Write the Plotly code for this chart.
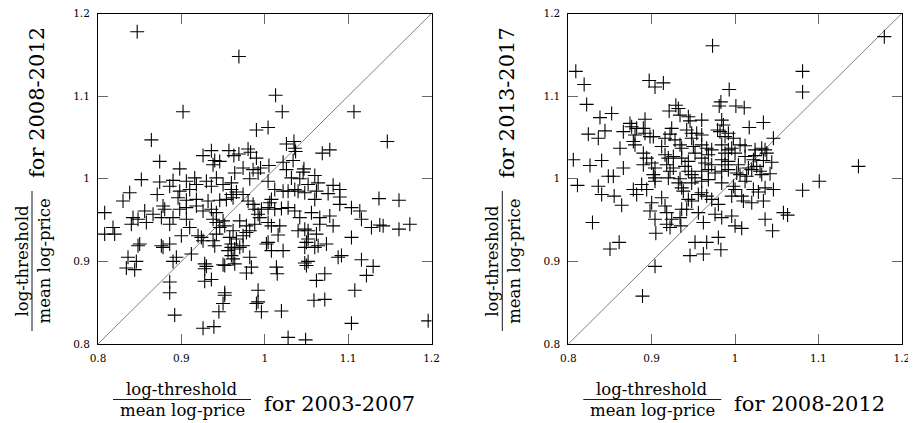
import plotly.graph_objects as go

# left panel: x = 2003-2007, y = 2008-2012
left_x = [0.847, 0.969, 0.902, 0.990, 0.864, 0.874, 0.898, 0.936, 0.926, 0.957, 0.963, 0.969, 0.940, 0.946, 0.938,
          0.980, 0.983, 0.974, 0.986, 0.964,
          1.013, 1.021, 1.107, 1.147, 1.004, 1.026, 1.035, 1.036, 1.037, 1.069, 1.078, 0.990, 1.022, 1.034, 1.005,
          0.995, 0.992, 1.026, 1.047, 1.046, 1.060, 1.032, 1.042,
          1.004, 1.052, 1.064, 1.082, 1.090, 1.012, 1.022, 1.028, 1.036, 1.040, 1.048, 1.062, 1.060, 1.076, 1.137,
          1.161, 1.090, 1.090, 1.008, 1.006, 0.988, 0.996, 1.004, 1.012, 1.020, 1.028, 1.036, 1.042, 1.056, 1.066,
          1.078, 1.104, 1.114, 1.116, 0.992, 0.994, 0.988, 1.004, 1.008, 1.018, 1.066, 1.082, 1.128, 1.138, 1.142,
          1.161, 1.174, 1.040, 1.048, 1.052, 1.062, 1.104, 1.016, 1.004, 1.002, 1.008, 1.022, 1.052, 1.050, 1.048,
          1.064, 1.074, 1.060, 1.088, 1.092, 1.116, 1.130, 1.048, 1.052, 1.050, 1.014, 1.015, 1.122, 1.072, 1.062,
          1.108, 0.992, 0.992, 0.990, 0.996, 1.020, 1.059, 1.072, 1.104, 1.196, 1.028, 1.049,
          0.852, 0.874, 0.890, 0.906, 0.916, 0.930, 0.942, 0.960, 0.982, 0.886, 0.898, 0.910, 0.918, 0.936, 0.950,
          0.960, 0.966, 0.974, 0.838, 0.830, 0.871, 0.896, 0.906, 0.918, 0.932, 0.946, 0.954, 0.960, 0.962, 0.980,
          0.986, 0.878, 0.880, 0.898, 0.906, 0.918, 0.926, 0.936, 0.942, 0.808, 0.856, 0.866, 0.876, 0.842, 0.848,
          0.858, 0.840, 0.890, 0.886, 0.906, 0.910, 0.938, 0.942, 0.950, 0.946, 0.952, 0.962, 0.970, 0.978, 0.818,
          0.808, 0.820, 0.900, 0.920, 0.924, 0.926, 0.942, 0.938, 0.940, 0.958, 0.966, 0.974, 0.978, 0.982, 0.960,
          0.960, 0.964, 0.970, 0.974, 0.848, 0.850, 0.876, 0.878, 0.886, 0.912, 0.836, 0.846, 0.834, 0.844, 0.894,
          0.890, 0.956, 0.960, 0.962, 0.964, 0.982, 0.928, 0.930, 0.928, 0.950, 0.952, 0.984, 0.978, 0.928, 0.936,
          0.886, 0.886, 0.952, 0.952, 0.950, 0.945, 0.892, 0.926, 0.939]
left_y = [1.178, 1.148, 1.081, 1.059, 1.047, 1.021, 1.012, 1.034, 1.028, 1.034, 1.028, 1.030, 1.022, 1.021, 1.017,
          1.036, 1.032, 1.013, 1.011, 1.007,
          1.101, 1.081, 1.081, 1.045, 1.062, 1.042, 1.045, 1.037, 1.033, 1.031, 1.035, 1.025, 1.020, 1.022, 1.016,
          1.013, 1.007, 1.011, 1.012, 1.008, 1.004, 1.001, 1.000,
          0.997, 0.993, 0.995, 0.992, 0.987, 0.987, 0.985, 0.985, 0.987, 0.985, 0.983, 0.985, 0.975, 0.982, 0.976,
          0.974, 0.978, 0.969, 0.975, 0.971, 0.963, 0.963, 0.965, 0.963, 0.964, 0.965, 0.961, 0.953, 0.959, 0.953,
          0.955, 0.965, 0.961, 0.951, 0.957, 0.953, 0.945, 0.947, 0.943, 0.943, 0.945, 0.943, 0.941, 0.944, 0.943,
          0.939, 0.945, 0.937, 0.939, 0.937, 0.933, 0.929, 0.932, 0.923, 0.921, 0.913, 0.913, 0.927, 0.923, 0.917,
          0.919, 0.921, 0.917, 0.905, 0.907, 0.902, 0.894, 0.898, 0.900, 0.895, 0.893, 0.885, 0.883, 0.885, 0.877,
          0.865, 0.865, 0.851, 0.849, 0.839, 0.840, 0.853, 0.854, 0.825, 0.828, 0.808, 0.805,
          0.999, 0.996, 0.998, 0.997, 1.001, 0.997, 1.001, 0.995, 1.000, 0.991, 0.985, 0.987, 0.993, 0.991, 0.993,
          0.987, 0.984, 0.981, 0.983, 0.973, 0.981, 0.977, 0.974, 0.975, 0.973, 0.974, 0.975, 0.981, 0.977, 0.973,
          0.969, 0.967, 0.963, 0.963, 0.965, 0.967, 0.961, 0.963, 0.959, 0.959, 0.961, 0.957, 0.953, 0.953, 0.951,
          0.947, 0.945, 0.953, 0.945, 0.951, 0.941, 0.951, 0.947, 0.949, 0.941, 0.943, 0.937, 0.949, 0.943, 0.941,
          0.933, 0.933, 0.931, 0.931, 0.929, 0.925, 0.933, 0.925, 0.919, 0.929, 0.927, 0.931, 0.935, 0.937, 0.921,
          0.917, 0.915, 0.917, 0.919, 0.919, 0.921, 0.919, 0.917, 0.921, 0.909, 0.905, 0.900, 0.892, 0.890, 0.905,
          0.900, 0.913, 0.907, 0.903, 0.897, 0.905, 0.897, 0.894, 0.891, 0.896, 0.895, 0.893, 0.886, 0.876, 0.878,
          0.875, 0.862, 0.862, 0.859, 0.849, 0.839, 0.835, 0.819, 0.821]

# right panel: x = 2008-2012, y = 2013-2017
right_x = [0.973, 0.809, 0.819, 0.897, 0.904, 0.914, 0.993, 0.822, 0.983, 0.981, 0.838, 0.852, 0.921, 0.929, 0.932,
           0.934, 0.944, 0.946, 0.960, 0.984, 0.986, 0.892, 0.874, 0.876, 0.890, 0.824, 0.836, 0.844, 0.866, 0.882,
           0.880, 0.892, 0.898, 0.902, 0.924, 0.922, 0.942, 0.948, 0.954, 0.960, 0.948, 0.979, 0.982, 0.992, 0.988,
           0.998, 0.878, 0.880, 0.916, 0.928, 0.934, 0.936, 0.912, 0.950, 0.960, 0.966, 0.972, 0.968, 0.952, 0.984,
           0.992, 0.988, 0.996, 0.862, 0.890, 0.890, 0.894, 0.916, 0.920, 0.926, 0.936, 0.944, 0.940, 0.960, 0.964,
           0.972, 0.984, 0.988, 0.992, 0.806, 0.826, 0.840, 0.866, 0.900, 0.904, 0.902, 0.918, 0.922, 0.926, 0.944,
           0.948, 0.960, 0.968, 0.976, 0.984, 0.992, 0.848, 0.854, 0.904, 0.920, 0.934, 0.952, 0.968,
           1.179, 1.081, 1.081, 1.001, 1.011, 1.017, 1.034, 1.046, 1.148, 1.006, 1.012, 1.000, 1.012, 1.024, 1.032,
           1.036, 1.038, 1.024, 1.022, 1.034, 1.044, 1.004, 1.016, 1.020, 1.026, 1.030, 1.032, 1.042, 1.002, 1.006,
           1.014,
           1.101, 1.081, 1.058, 1.063, 1.036, 1.045, 1.012, 0.998, 1.000, 1.022, 1.028, 1.036, 1.046, 1.008, 1.010,
           1.020, 1.034, 0.996, 1.000, 1.008,
           0.811, 0.836, 0.840, 0.855, 0.864, 0.829, 0.850, 0.861, 0.878, 0.882, 0.888, 0.894, 0.904, 0.900, 0.898,
           0.904, 0.912, 0.916, 0.918, 0.905, 0.918, 0.922, 0.924, 0.934, 0.935, 0.932, 0.936, 0.938, 0.948, 0.960,
           0.984, 0.944, 0.948, 0.956, 0.960, 0.966, 0.972, 0.980, 0.996, 0.936, 0.942, 0.956, 0.962, 0.976, 0.984,
           0.952, 0.966, 0.980, 0.983, 0.946, 0.962, 0.904, 0.889]
right_y = [1.161, 1.130, 1.114, 1.119, 1.111, 1.116, 1.108, 1.090, 1.093, 1.088, 1.074, 1.079, 1.082, 1.089, 1.085,
           1.077, 1.075, 1.070, 1.071, 1.071, 1.065, 1.072, 1.067, 1.063, 1.061, 1.054, 1.049, 1.058, 1.057, 1.061,
           1.053, 1.055, 1.051, 1.051, 1.061, 1.054, 1.059, 1.055, 1.055, 1.053, 1.049, 1.059, 1.057, 1.055, 1.051,
           1.049, 1.045, 1.041, 1.049, 1.047, 1.041, 1.037, 1.039, 1.039, 1.041, 1.037, 1.035, 1.029, 1.031, 1.041,
           1.035, 1.031, 1.037, 1.037, 1.031, 1.017, 1.025, 1.029, 1.025, 1.027, 1.025, 1.021, 1.015, 1.025, 1.019,
           1.017, 1.023, 1.017, 1.021, 1.023, 1.016, 1.022, 1.013, 1.019, 1.013, 1.005, 1.017, 1.009, 1.013, 1.009,
           1.005, 1.009, 1.011, 1.007, 1.009, 1.011, 1.003, 1.003, 1.001, 1.001, 1.000, 1.001, 0.999,
           1.172, 1.130, 1.105, 1.088, 1.086, 1.062, 1.068, 1.049, 1.015, 1.041, 1.040, 1.031, 1.027, 1.035, 1.037,
           1.035, 1.031, 1.028, 1.023, 1.022, 1.020, 1.017, 1.013, 1.011, 1.015, 1.009, 1.005, 1.006, 1.007, 1.005,
           1.003,
           0.997, 0.986, 0.959, 0.956, 0.951, 0.937, 0.997, 0.991, 0.987, 0.987, 0.984, 0.989, 0.987, 0.979, 0.973,
           0.971, 0.973, 0.955, 0.943, 0.940,
           0.992, 0.991, 0.981, 0.979, 0.968, 0.947, 0.915, 0.923, 0.987, 0.981, 0.993, 0.987, 0.997, 0.971, 0.961,
           0.951, 0.977, 0.967, 0.959, 0.934, 0.945, 0.941, 0.951, 0.953, 0.943, 0.995, 0.989, 0.985, 0.995, 0.997,
           0.995, 0.975, 0.973, 0.981, 0.983, 0.979, 0.975, 0.969, 0.979, 0.963, 0.963, 0.959, 0.947, 0.957, 0.953,
           0.923, 0.923, 0.929, 0.914, 0.907, 0.909, 0.894, 0.858]

diag = [0.8, 1.2]
tick_vals = [0.8, 0.9, 1.0, 1.1, 1.2]
tick_text = ["0.8", "0.9", "1", "1.1", "1.2"]
periods = ["2003-2007", "2008-2012", "2013-2017"]

# the page puts the plot 8px in from the window corner, so work in window pixels minus 8
OFF = 8
W, H = 916 - OFF, 423 - OFF
FONT = "DejaVu Serif"


def px(x):
    return (x - OFF) / W


def py(y):
    return 1 - (y - OFF) / H


x0s = [98, 568.3]
pw = 333.5
top, bottom = 13.5, 344

fig = go.Figure()
marker = dict(symbol="cross-thin", size=10, color="black", line=dict(color="black", width=1.1))
for k, (xs, ys) in enumerate([(left_x, left_y), (right_x, right_y)]):
    ax = "" if k == 0 else "2"
    fig.add_trace(go.Scatter(x=diag, y=diag, mode="lines", line=dict(color="gray", width=1),
                             xaxis="x" + ax, yaxis="y" + ax, hoverinfo="skip"))
    fig.add_trace(go.Scatter(x=xs, y=ys, mode="markers", marker=marker, xaxis="x" + ax, yaxis="y" + ax))
    # invisible trace holding the top/right tick axes
    fig.add_trace(go.Scatter(x=diag, y=diag, mode="lines", opacity=0, xaxis="x" + str(k + 3),
                             yaxis="y" + str(k + 3), hoverinfo="skip"))

tick_style = dict(range=[0.8, 1.2], tickvals=tick_vals, ticks="inside", ticklen=10,
                  tickcolor="dimgray", tickwidth=1.2, showgrid=False, zeroline=False, automargin=False)
axis_style = dict(ticktext=tick_text, showline=True, linecolor="black", linewidth=1,
                  mirror=True, ticklabeloverflow="allow",
                  tickfont=dict(family=FONT, size=10.5, color="black"), **tick_style)
mirror_style = dict(showline=False, showticklabels=False, **tick_style)

layout = dict(width=W, height=H, margin=dict(l=0, r=0, t=0, b=0), showlegend=False,
              paper_bgcolor="white", plot_bgcolor="white")
for k in range(2):
    a = "" if k == 0 else "2"
    m = str(k + 3)
    layout["xaxis" + a] = dict(domain=[px(x0s[k]), px(x0s[k] + pw)], anchor="y" + a,
                               ticklabelstandoff=4, **axis_style)
    layout["yaxis" + a] = dict(domain=[py(bottom), py(top)], anchor="x" + a,
                               ticklabelstandoff=5, **axis_style)
    layout["xaxis" + m] = dict(overlaying="x" + a, side="top", anchor="y" + a, **mirror_style)
    layout["yaxis" + m] = dict(overlaying="y" + a, side="right", anchor="x" + a, **mirror_style)
fig.update_layout(**layout)

big = dict(family=FONT, size=21, color="black")
small = dict(family=FONT, size=16.5, color="black")

ann = []
shapes = []
for k in range(2):
    dx = x0s[k] - x0s[0]
    xp, yp = periods[k], periods[k + 1]
    # x title: fraction + "for ..."
    cx = 182 + dx
    ann.append(dict(x=px(cx), y=py(389), text="log-threshold", font=small, showarrow=False,
                    xref="paper", yref="paper", xanchor="center", yanchor="middle"))
    ann.append(dict(x=px(cx), y=py(410), text="mean log-price", font=small, showarrow=False,
                    xref="paper", yref="paper", xanchor="center", yanchor="middle"))
    shapes.append(dict(type="line", xref="paper", yref="paper", x0=px(cx - 69), x1=px(cx + 69),
                       y0=py(399.5), y1=py(399.5), line=dict(color="black", width=0.9)))
    ann.append(dict(x=px(261.7 + dx), y=py(404), text="for " + xp, font=big, showarrow=False,
                    xref="paper", yref="paper", xanchor="left", yanchor="middle"))
    # y title, rotated
    bx = 32 + dx
    cy = 261
    ann.append(dict(x=px(bx - 10.5), y=py(cy), text="log-threshold", font=small, showarrow=False, textangle=-90,
                    xref="paper", yref="paper", xanchor="center", yanchor="middle"))
    ann.append(dict(x=px(bx + 11.5), y=py(cy), text="mean log-price", font=small, showarrow=False, textangle=-90,
                    xref="paper", yref="paper", xanchor="center", yanchor="middle"))
    shapes.append(dict(type="line", xref="paper", yref="paper", x0=px(bx), x1=px(bx),
                       y0=py(cy - 70), y1=py(cy + 70), line=dict(color="black", width=0.9)))
    ann.append(dict(x=px(bx + 4.5), y=py(102.5), text="for " + yp, font=big, showarrow=False, textangle=-90,
                    xref="paper", yref="paper", xanchor="center", yanchor="middle"))

fig.update_layout(annotations=ann, shapes=shapes)
fig.write_html("out.html")
